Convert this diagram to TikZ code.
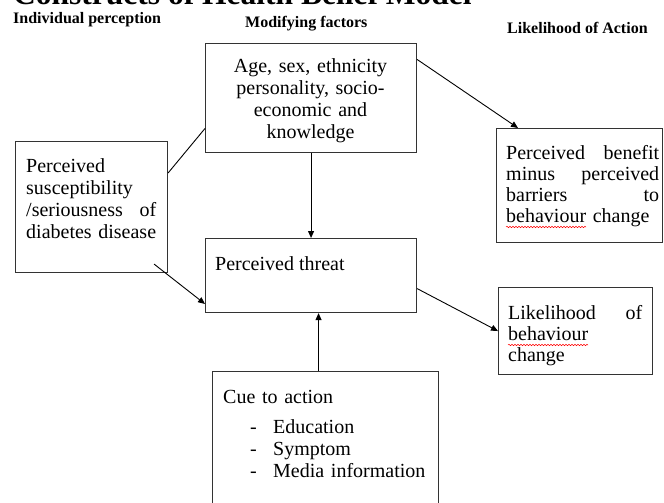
\documentclass[tikz,border=0pt]{standalone}
\usepackage{fontspec}
\setmainfont{Liberation Serif}
\usetikzlibrary{calc,positioning,arrows.meta,decorations.pathmorphing}
\tikzset{
  hbmbox/.style={rectangle,draw=black!80,line width=1.1pt,inner sep=0pt,anchor=north west},
  body/.style={inner sep=0pt,anchor=north west,font=\fontsize{20}{22}\selectfont,align=left},
  body21/.style={body,font=\fontsize{20}{21}\selectfont},
  head/.style={inner sep=0pt,anchor=base west,font=\bfseries\fontsize{16}{18}\selectfont},
  line/.style={draw,line width=0.9pt,-{Triangle[length=7pt,width=6pt]}},
  spell/.style={draw=red,line width=0.5pt,decorate,decoration={snake,amplitude=0.7pt,segment length=3pt}}
}
\begin{document}
\begin{tikzpicture}[x=1pt,y=-1pt]
  \useasboundingbox (0,0) rectangle (664,503);
  \clip (0,0) rectangle (664,503);

  % headings
  \node[head,font=\bfseries\fontsize{31.5}{34}\selectfont] (title) at (13,5) {Constructs of Health Belief Model};
  \node[head] (hind) at (13,24) {Individual perception};
  \node[head] (hmod) at (245,28) {Modifying factors};
  \node[head] (hact) at (507,34) {Likelihood of Action};

  % boxes
  \node[hbmbox,minimum width=152,minimum height=131] (perc) at (15,141) {};
  \node[hbmbox,minimum width=211,minimum height=109] (mod) at (205,43) {};
  \node[hbmbox,minimum width=211,minimum height=74] (threat) at (205,238) {};
  \node[hbmbox,minimum width=166,minimum height=114] (benef) at (496,128) {};
  \node[hbmbox,minimum width=154,minimum height=87] (like) at (498,287) {};
  \node[hbmbox,minimum width=226,minimum height=160] (cue) at (212,371) {};

  % texts
  \node[body,text width=130] (perctxt) at (26,156.6) {\strut Perceived\\ susceptibility\\ /seriousness\hfill of\\ diabetes disease};
  \node[body,anchor=north,align=center,text width=200,font=\fontsize{20}{21.7}\selectfont] (modtxt) at (310.5,57.6) {\strut Age, sex, ethnicity\\ personality, socio-\\ economic and\\ knowledge};
  \node[body] (threattxt) at (215,254.6) {\strut Perceived threat};
  \node[body21,text width=153] (beneftxt) at (506,144.6) {\strut Perceived\hfill benefit\\ minus\hfill perceived\\ barriers\hfill to\\ behaviour change};
  \node[body21,text width=134] (liketxt) at (508,304.6) {\strut Likelihood\hfill of\\ behaviour\\ change};
  \node[body,text width=210] (cuetxt) at (223,387.6) {\strut Cue to action\\[8pt]
    \hspace*{27pt}\makebox[23pt][l]{-}Education\\
    \hspace*{27pt}\makebox[23pt][l]{-}Symptom\\
    \hspace*{27pt}\makebox[23pt][l]{-}Media information};

  \begin{scope}[every path/.style=line]
    \path[-] (perc.24) -- (mod.196);
    \path ([shift={(-14,-9)}]perc.south east) -- (threat.195);
    \path (mod.south) -- (threat.north);
    \path (mod.20) -- ([xshift=22pt]benef.north west);
    \path (threat.-7) -- (like.west);
    \path ($(cue.north)+(-7,0)$) -- ($(cue.north |- threat.south)+(-7,0)$);
  \end{scope}

  % spelling marks
  \draw[spell] (508,345) -- (588,345);
  \draw[spell] (506,227) -- (586,227);
\end{tikzpicture}
\end{document}
